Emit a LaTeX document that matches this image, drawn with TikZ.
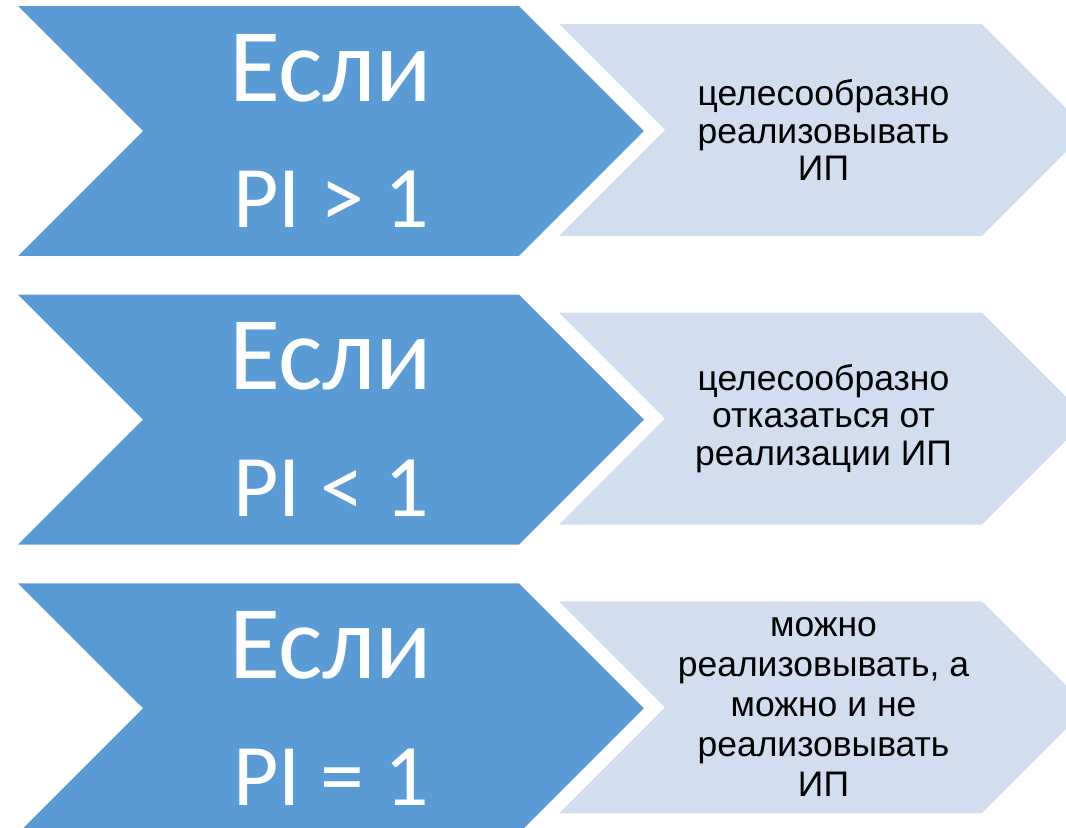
\documentclass[tikz,border=0pt]{standalone}
\usepackage{fontspec}
\usepackage{tikz}
\usetikzlibrary{positioning}
\usetikzlibrary{shapes,shapes.symbols}
\newfontfamily\calibrifont{Carlito}
\newfontfamily\arialfont{Liberation Sans}
\definecolor{chevdark}{RGB}{91,155,213}
\definecolor{chevlight}{RGB}{210,222,239}
\tikzstyle{chevron} = [signal, signal to=east, signal from=west, signal pointer angle=90, inner sep=0pt, align=center]
\tikzstyle{condition} = [chevron, fill=chevdark, text=white, minimum width=12.52cm, minimum height=5cm, font=\calibrifont\fontsize{59.5}{72}\selectfont]
\tikzstyle{verdict} = [chevron, fill=chevlight, text=black, minimum width=10.58cm, minimum height=4.24cm, font=\arialfont\fontsize{20.2}{21.3}\selectfont]
\newcommand{\picond}[1]{{\fontsize{50}{72}\selectfont PI #1 1}}

\begin{document}
\begin{tikzpicture}[x=0.02cm, y=-0.02cm]
	\useasboundingbox (0,0) rectangle (1066,828);
	\clip (0,0) rectangle (1066,828);

	% left column: conditions
	\node [condition] (cond1) at (331,131) {Если\\\picond{>}};
	\node [condition, node distance=0.76cm, below=of cond1] (cond2) {Если\\\picond{<}};
	\node [condition, node distance=0.76cm, below=of cond2] (cond3) {Если\\\picond{=}};

	% right column: what to do
	\node [verdict] (res1) at (823.5,130) {целесообразно\\реализовывать\\ИП};
	\node [verdict, node distance=1.52cm, below=of res1] (res2) {целесообразно\\отказаться от\\реализации ИП};
	\node [verdict, node distance=1.52cm, below=of res2, font=\arialfont\fontsize{20.2}{22.8}\selectfont] (res3)
	{можно\\реализовывать, а\\можно и не\\реализовывать\\ИП};
\end{tikzpicture}
\end{document}
